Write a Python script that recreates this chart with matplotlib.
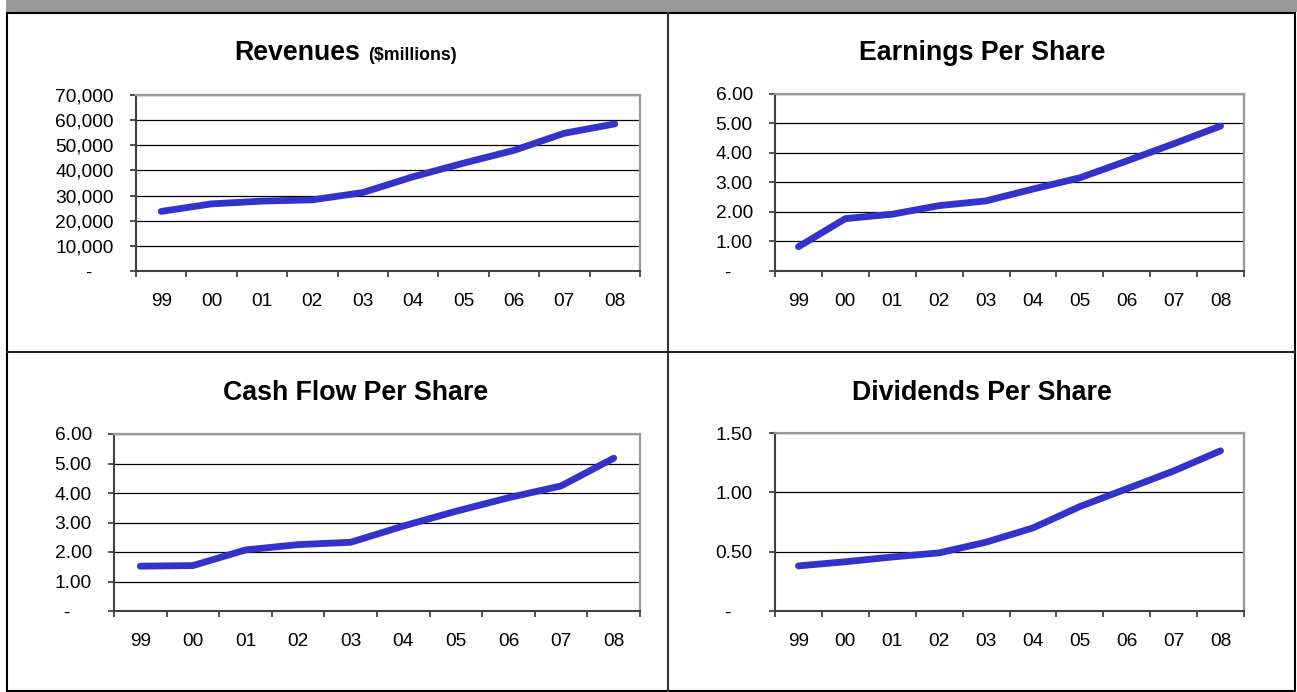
import numpy as np
import matplotlib
matplotlib.use("Agg")
import matplotlib.pyplot as plt
from matplotlib.lines import Line2D
from matplotlib.patches import Rectangle
from matplotlib.ticker import FuncFormatter

plt.rcParams['font.family'] = ['Liberation Sans', 'DejaVu Sans']

# data
years = ['99', '00', '01', '02', '03', '04', '05', '06', '07', '08']
revenues = [23700, 26700, 27800, 28300, 31200, 37500, 42900, 48000, 54800, 58500]
eps = [0.82, 1.77, 1.92, 2.21, 2.37, 2.77, 3.15, 3.72, 4.30, 4.90]
cash_flow = [1.52, 1.54, 2.07, 2.25, 2.33, 2.88, 3.38, 3.84, 4.24, 5.18]
dividends = [0.38, 0.415, 0.455, 0.49, 0.58, 0.70, 0.88, 1.03, 1.18, 1.35]

W, H = 1297, 692
fig = plt.figure(figsize=(W / 100, H / 100), dpi=100)


def box(l, t, r, b):
    """pixel box (top-left origin) -> figure fraction rect"""
    return [l / W, 1 - b / H, (r - l) / W, (b - t) / H]


def fx(x):
    return x / W


def fy(y):
    return 1 - y / H


def fmt_int(v, pos):
    return '-    ' if abs(v) < 1e-9 else f'{v:,.0f}'


def fmt_dec(v, pos):
    return '-    ' if abs(v) < 1e-9 else f'{v:.2f}'


def panel(rect, values, ymax, step, fmt):
    ax = fig.add_axes(rect)
    x = np.arange(len(years))
    ax.plot(x, values, color='#3333CC', lw=4.9, solid_capstyle='round',
            solid_joinstyle='round', zorder=3, clip_on=False)
    ax.set_xlim(-0.5, len(years) - 0.5)
    ax.set_ylim(0, ymax)
    ax.set_yticks(np.arange(0, ymax + step / 2, step))
    ax.yaxis.set_major_formatter(FuncFormatter(fmt))
    ax.set_xticks(x)
    ax.set_xticklabels(years)
    ax.set_xticks(np.arange(-0.5, len(years)), minor=True)
    ax.tick_params(axis='x', which='major', length=0, pad=15.5, labelsize=13.8)
    ax.tick_params(axis='x', which='minor', length=4.5, width=1.2,
                   direction='out', color='#333333')
    ax.tick_params(axis='y', length=4.5, width=1.2, pad=11.5, labelsize=13.8,
                   color='#333333')
    ax.grid(axis='y', color='black', lw=0.9)
    for s in ['left', 'bottom']:
        ax.spines[s].set_color('#404040')
        ax.spines[s].set_linewidth(1.5)
    for s in ['top', 'right']:
        ax.spines[s].set_color('#999999')
        ax.spines[s].set_linewidth(1.6)
    return ax


panel(box(136, 95, 640, 271), revenues, 70000, 10000, fmt_int)
panel(box(775, 93.5, 1244, 271), eps, 6, 1, fmt_dec)
panel(box(114, 434, 640, 611), cash_flow, 6, 1, fmt_dec)
panel(box(775, 433, 1244, 611), dividends, 1.5, 0.5, fmt_dec)

# titles
t1 = fig.text(fx(234), fy(60), 'Revenues', fontsize=19.3, fontweight='bold',
              ha='left', va='baseline')
fig.canvas.draw()
bb = t1.get_window_extent()
fig.text(bb.x1 / W + fx(8), fy(60), '($millions)', fontsize=12.8,
         fontweight='bold', ha='left', va='baseline')
fig.text(fx(982), fy(60), 'Earnings Per Share', fontsize=19.3, fontweight='bold',
         ha='center', va='baseline')
fig.text(fx(356), fy(400), 'Cash Flow Per Share', fontsize=19.3, fontweight='bold',
         ha='center', va='baseline')
fig.text(fx(982), fy(400), 'Dividends Per Share', fontsize=19.3, fontweight='bold',
         ha='center', va='baseline')

# header bar and grid borders
fig.add_artist(Rectangle((fx(6), fy(12)), 1 - fx(6), 12 / H,
                         transform=fig.transFigure, color='#999999', lw=0))
fig.add_artist(Rectangle((fx(7), fy(691)), fx(1295 - 7), (691 - 12.5) / H,
                         transform=fig.transFigure, fill=False,
                         edgecolor='black', lw=1.5))
fig.add_artist(Line2D([fx(668), fx(668)], [fy(12.5), fy(691)],
                      transform=fig.transFigure, color='#333333', lw=1.5))
fig.add_artist(Line2D([fx(7), fx(1295)], [fy(352), fy(352)],
                      transform=fig.transFigure, color='#222222', lw=1.5))

fig.savefig('out.png', dpi=100)
